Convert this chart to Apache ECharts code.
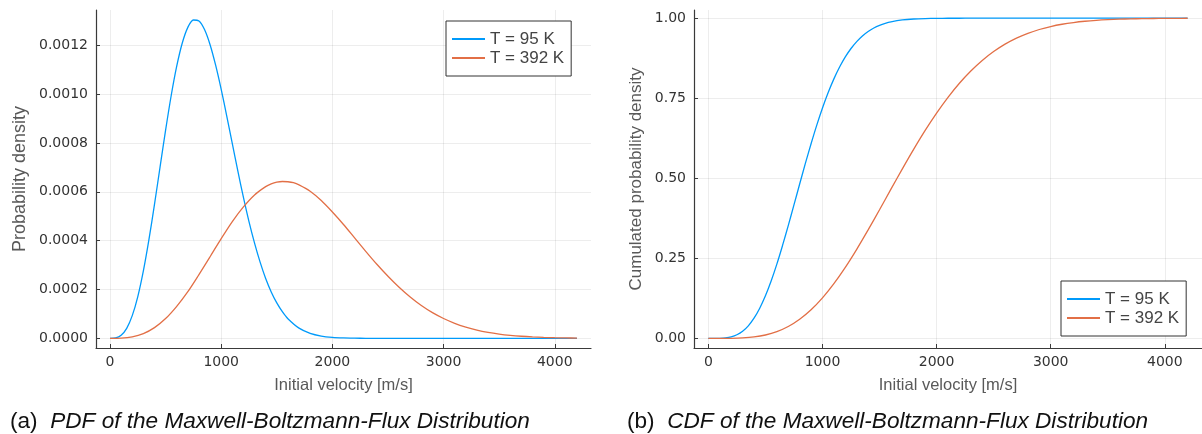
<!DOCTYPE html>
<html>
<head>
<meta charset="utf-8">
<script src="https://cdn.jsdelivr.net/npm/echarts@6/dist/echarts.min.js"></script>
<style>
  html, body { margin: 0; padding: 0; background: #fff; }
  #chart { width: 1202px; height: 434px; }
</style>
</head>
<body>
<div id="chart"></div>
<script>
// ---- data ----
// T = 95 K curve is sampled more finely (it is steep)
const velocity95 = [0,50,100,150,200,250,300,350,400,450,500,550,600,650,700,750,800,850,900,950,1000,
  1050,1100,1150,1200,1250,1300,1350,1400,1450,1500,1550,1600,1700,1800,1900,2000,
  2100,2200,2300,2400,2500,2600,2700,2800,2900,3000,3100,3200,3300,3400,3500,3600,3700,3800,3900,4000,4100,4200];

const velocity392 = [0,100,200,300,400,500,600,700,800,900,1000,1100,1200,1300,1400,1500,1600,1700,1800,1900,2000,
  2100,2200,2300,2400,2500,2600,2700,2800,2900,3000,3100,3200,3300,3400,3500,3600,3700,3800,3900,4000,4100,4200];

// finer sampling around the T = 392 K density peak
const velocity392pdf = [0,100,200,300,400,500,600,700,800,900,1000,1100,1200,1300,1400,1450,1500,1550,1600,1650,1700,1800,1900,2000,
  2100,2200,2300,2400,2500,2600,2700,2800,2900,3000,3100,3200,3300,3400,3500,3600,3700,3800,3900,4000,4100,4200];

const seriesNames = ['T = 95 K', 'T = 392 K'];

const pdf95 = [0,0.0000016,0.0000125,0.0000409,0.0000928,0.000171,0.000276,0.000404,0.000548,0.000701,0.000852,
  0.000993,0.001114,0.001209,0.001273,0.001303,0.001299,0.001264,0.001202,0.001118,0.001019,
  0.000910,0.000797,0.000684,0.000577,0.000478,0.000390,0.000312,0.000245,0.000190,0.000145,0.000109,0.0000801,
  0.0000416,0.0000204,0.0000094,0.0000041,
  0.0000017,0.0000007,0.0000002,0,0,0,0,0,0,0,0,0,0,0,0,0,0,0,0,0,0,0];

const pdf392 = [0,0.00000075,0.0000059,0.0000193,0.0000438,0.0000809,0.000131,0.000191,0.000261,0.000334,0.000408,
  0.000478,0.000538,0.000587,0.000621,0.000632,0.000639,0.000642,0.000641,0.000637,0.000628,0.000602,0.000564,0.000517,
  0.000466,0.000411,0.000356,0.000303,0.000254,0.000209,0.000169,0.000134,0.000105,0.0000811,
  0.0000615,0.0000460,0.0000338,0.0000245,0.0000175,0.0000123,0.0000085,0.0000058,0.0000039,0.0000026,0.0000017,0.0000011];

const cdf95 = [0,0.00002,0.0003,0.0016,0.0048,0.0113,0.0224,0.0393,0.0630,0.0942,0.1330,
  0.1792,0.2320,0.2903,0.3524,0.4169,0.4821,0.5464,0.6080,0.6662,0.7196,
  0.7679,0.8105,0.8475,0.8791,0.9054,0.9270,0.9445,0.9584,0.9693,0.9776,0.9839,0.9886,
  0.9945,0.9975,0.9989,0.9996,
  0.9998,0.9999,1,1,1,1,1,1,1,1,1,1,1,1,1,1,1,1,1,1,1,1];

const cdf392 = [0,0.00002,0.0003,0.0015,0.0045,0.0106,0.0211,0.0371,0.0597,0.0894,0.1266,
  0.1709,0.2218,0.2782,0.3387,0.4018,0.4660,0.5296,0.5912,0.6496,0.7036,
  0.7528,0.7967,0.8350,0.8680,0.8958,0.9189,0.9377,0.9528,0.9647,0.9740,
  0.9811,0.9864,0.9904,0.9933,0.9954,0.9969,0.9979,0.9986,0.9991,0.9994,0.9996,0.9998];

const xTicks = [0, 1000, 2000, 3000, 4000];
const pdfTicks = [0, 0.0002, 0.0004, 0.0006, 0.0008, 0.0010, 0.0012];
const cdfTicks = [0, 0.25, 0.5, 0.75, 1.0];

const xTitle = 'Initial velocity [m/s]';
const pdfTitle = 'Probability density';
const cdfTitle = 'Cumulated probability density';
const captionA = ['(a)', 'PDF of the Maxwell-Boltzmann-Flux Distribution'];
const captionB = ['(b)', 'CDF of the Maxwell-Boltzmann-Flux Distribution'];

// ---- styling ----
const colors = ['#009AFA', '#E26F46'];
const axisColor = '#3a3a3a';
const gridColor = 'rgba(0,0,0,0.07)';
const tickFont = { fontFamily: 'DejaVu Sans', fontSize: 14, color: '#333' };
const titleFont = { fontFamily: 'Liberation Sans', fontSize: 16.5, color: '#595959' };

function pairs(xs, ys) { return xs.map((v, i) => [v, ys[i]]); }

function xAxis(gridIndex) {
  return {
    type: 'value', gridIndex, min: -126, max: 4326,
    name: xTitle, nameLocation: 'middle', nameGap: 29, nameTextStyle: titleFont,
    axisLine: { show: true, onZero: false, lineStyle: { color: axisColor, width: 1.2 } },
    axisTick: { show: true, inside: true, length: 4, customValues: xTicks, lineStyle: { color: axisColor } },
    axisLabel: { customValues: xTicks, margin: 7, ...tickFont, formatter: v => String(v) },
    splitLine: { show: true, lineStyle: { color: gridColor, width: 1 } }
  };
}
function yAxis(gridIndex, min, max, ticks, name, nameGap, digits, nameSize) {
  return {
    type: 'value', gridIndex, min, max,
    name, nameLocation: 'middle', nameGap, nameTextStyle: { ...titleFont, fontSize: nameSize },
    axisLine: { show: true, onZero: false, lineStyle: { color: axisColor, width: 1.2 } },
    axisTick: { show: true, inside: true, length: 4, customValues: ticks, lineStyle: { color: axisColor } },
    axisLabel: { customValues: ticks, margin: 8, ...tickFont, formatter: v => v.toFixed(digits) },
    splitLine: { show: true, lineStyle: { color: gridColor, width: 1 } }
  };
}
function line(name, xi, xs, ys, ci) {
  return {
    type: 'line', name, xAxisIndex: xi, yAxisIndex: xi, data: pairs(xs, ys),
    symbol: 'none', showSymbol: false, smooth: 0.3, color: colors[ci],
    lineStyle: { width: 1.3, color: colors[ci] }, z: 3 + ci
  };
}
function legend(left, top) {
  return {
    left, top, orient: 'vertical', data: seriesNames,
    icon: 'rect', itemWidth: 33, itemHeight: 2, itemGap: 1,
    padding: [9, 7, 9, 6],
    borderColor: '#333', borderWidth: 1, borderRadius: 0, backgroundColor: '#fff',
    textStyle: { fontFamily: 'Liberation Sans', fontSize: 17, lineHeight: 18, color: '#444' }
  };
}
function caption(left, parts) {
  return {
    left, top: 410,
    text: '{n|' + parts[0] + '}  {i|' + parts[1] + '}',
    textStyle: {
      fontWeight: 'normal', fontFamily: 'Liberation Sans', fontSize: 22.6,
      rich: {
        n: { fontFamily: 'Liberation Sans', fontSize: 22.6, fontWeight: 'normal', color: '#111' },
        i: { fontFamily: 'Liberation Sans', fontSize: 22.6, fontWeight: 'normal', fontStyle: 'italic', color: '#111' }
      }
    },
    padding: 0
  };
}

const chart = echarts.init(document.getElementById('chart'), null, { renderer: 'canvas' });
chart.setOption({
  animation: false,
  backgroundColor: '#fff',
  title: [caption(10, captionA), caption(627, captionB)],
  grid: [
    { left: 96, top: 10, width: 495, height: 338, containLabel: false },
    { left: 694, top: 10, width: 512, height: 338, containLabel: false }
  ],
  xAxis: [xAxis(0), xAxis(1)],
  yAxis: [
    yAxis(0, -0.0000396, 0.001344, pdfTicks, pdfTitle, 67, 4, 18),
    yAxis(1, -0.03, 1.0256, cdfTicks, cdfTitle, 49, 2, 17)
  ],
  legend: [legend(446, 21), legend(1061, 281)],
  series: [
    line(seriesNames[0], 0, velocity95, pdf95, 0),
    line(seriesNames[1], 0, velocity392pdf, pdf392, 1),
    line(seriesNames[0], 1, velocity95, cdf95, 0),
    line(seriesNames[1], 1, velocity392, cdf392, 1)
  ]
});
</script>
</body>
</html>
